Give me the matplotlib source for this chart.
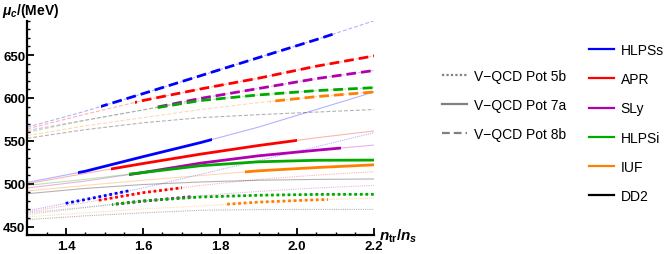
import matplotlib
matplotlib.use("Agg")
import matplotlib.pyplot as plt
from matplotlib.lines import Line2D
from matplotlib.patches import Rectangle

plt.rcParams["font.family"] = ["Liberation Sans", "DejaVu Sans"]
plt.rcParams["mathtext.fontset"] = "custom"
plt.rcParams["mathtext.it"] = "Liberation Sans:italic:bold"
plt.rcParams["mathtext.rm"] = "Liberation Sans:bold"
plt.rcParams["mathtext.bf"] = "Liberation Sans:bold"

# common x grid (n_tr / n_s)
xs = [1.3, 1.45, 1.6, 1.75, 1.9, 2.05, 2.2]

eos_names = ["HLPSs", "APR", "SLy", "HLPSi", "IUF", "DD2"]
eos_colors = ["#0000ff", "#ff0000", "#b000b0", "#00aa00", "#ff8000", "#000000"]

# V-QCD Pot 8b (dashed)
mu_8b = {
    "HLPSs": [566, 584.5, 605, 626, 647, 668, 690],
    "APR":   [564, 581, 597, 610.5, 623, 637, 649],
    "SLy":   [562, 574, 586, 599.5, 611, 622.5, 632],
    "HLPSi": [560, 574, 586, 597, 603.5, 608.5, 612],
    "IUF":   [556, 567.5, 577, 586.5, 594.5, 601.5, 607],
    "DD2":   [553, 563, 571, 577, 580.5, 583.5, 586.5],
}
# V-QCD Pot 7a (solid)
mu_7a = {
    "HLPSs": [501.5, 514.5, 531.5, 548, 566, 586.5, 607],
    "APR":   [500, 512, 523.5, 534.5, 544.5, 553.5, 561.5],
    "SLy":   [495, 503, 513, 524, 532.5, 539, 545],
    "HLPSi": [498, 505, 513, 521, 525.5, 527.3, 527.5],
    "IUF":   [491.5, 498, 504, 509.5, 515, 518.8, 522],
    "DD2":   [488.3, 494.5, 499, 502, 504, 505, 505.5],
}
# V-QCD Pot 5b (dotted)
mu_5b = {
    "HLPSs": [468.5, 481.5, 495, 511, 527, 543, 559.5],
    "APR":   [467, 478, 489.5, 498, 505, 510, 514],
    "SLy":   [466, 472.5, 479.5, 486, 491, 495, 498],
    "HLPSi": [464, 472, 480, 484.5, 486.5, 487.5, 487.6],
    "IUF":   [461.5, 466, 470.5, 474, 478.5, 481.2, 483],
    "DD2":   [458, 462.5, 466, 469, 469.8, 470, 470],
}

# n_tr/n_s range where each curve is drawn bold (None = never)
bold_8b = {"HLPSs": (1.49, 2.10), "APR": (1.58, 2.2), "SLy": (1.636, 2.2),
           "HLPSi": (1.636, 2.2), "IUF": (1.93, 2.2), "DD2": None}
bold_7a = {"HLPSs": (1.43, 1.778), "APR": (1.517, 2.0), "SLy": (1.564, 2.114),
           "HLPSi": (1.564, 2.2), "IUF": (1.865, 2.2), "DD2": None}
bold_5b = {"HLPSs": (1.397, 1.564), "APR": (1.48, 1.70), "SLy": (1.523, 1.727),
           "HLPSi": (1.52, 2.2), "IUF": (1.817, 2.081), "DD2": None}

pots = [
    ("V\u2212QCD Pot 5b", mu_5b, bold_5b, (0, (1, 1))),
    ("V\u2212QCD Pot 7a", mu_7a, bold_7a, "-"),
    ("V\u2212QCD Pot 8b", mu_8b, bold_8b, (0, (3.5, 1.8))),
]

fig = plt.figure(figsize=(6.64, 2.55), dpi=100)
ax = fig.add_axes([0.0414, 0.0757, 0.522, 0.839])

for label, data, bold, ls in pots:
    for name, col in zip(eos_names, eos_colors):
        ys = data[name]
        ax.plot(xs, ys, color=col, lw=0.8, alpha=0.3, ls=ls, zorder=2)
        rng = bold[name]
        if rng is None:
            continue
        ln, = ax.plot(xs, ys, color=col, lw=2.0, ls=ls, zorder=3,
                      solid_capstyle="butt", dash_capstyle="butt")
        clip = Rectangle((rng[0], 400), rng[1] - rng[0], 400, transform=ax.transData)
        ln.set_clip_path(clip)

ax.set_xlim(1.3, 2.2)
ax.set_ylim(440.5, 690)
ax.set_xticks([1.4, 1.6, 1.8, 2.0, 2.2])
ax.set_xticks([1.35 + 0.05 * i for i in range(17)], minor=True)
ax.set_yticks([450, 500, 550, 600, 650])
ax.set_yticks(list(range(450, 691, 10)), minor=True)
ax.set_xticklabels(["1.4", "1.6", "1.8", "2.0", "2.2"])
for s in ["top", "right"]:
    ax.spines[s].set_visible(False)
for s in ["left", "bottom"]:
    ax.spines[s].set_linewidth(1.6)
ax.tick_params(which="major", direction="in", length=5, width=1.3, labelsize=9.5)
ax.tick_params(which="minor", direction="in", length=2.5, width=1.0)
ax.tick_params(axis="y", which="major", pad=1.5)
ax.tick_params(axis="x", which="major", pad=4)
for t in ax.get_xticklabels() + ax.get_yticklabels():
    t.set_fontweight("bold")

fig.text(0.003, 0.955, r"$\mu_c$/(MeV)", fontsize=10, fontweight="bold", va="center")
fig.text(0.571, 0.072, r"$n_{\rm tr}/n_s$", fontsize=11, va="center")

# legends
pot_handles = [Line2D([], [], color="gray", lw=1.6, ls=ls) for _, _, _, ls in pots]
leg1 = fig.legend(pot_handles, [p[0] for p in pots], loc="upper left",
                  bbox_to_anchor=(0.647, 0.776), frameon=False, fontsize=10,
                  handlelength=1.8, labelspacing=1.1, handletextpad=0.5)
eos_handles = [Line2D([], [], color=c, lw=1.6) for c in eos_colors]
leg2 = fig.legend(eos_handles, eos_names, loc="upper left",
                  bbox_to_anchor=(0.868, 0.877), frameon=False, fontsize=10,
                  handlelength=1.8, labelspacing=1.1, handletextpad=0.5)

fig.savefig("out.png", dpi=100)
